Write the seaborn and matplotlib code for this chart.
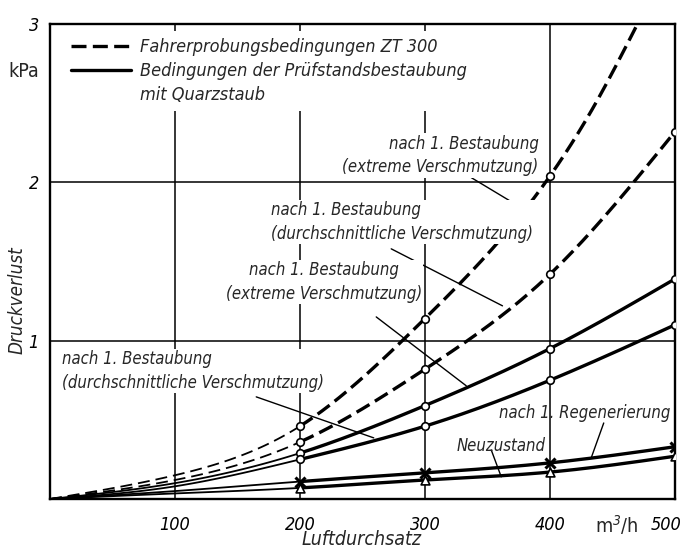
import numpy as np
import pandas as pd
import matplotlib
matplotlib.use("Agg")
import matplotlib.pyplot as plt
import matplotlib.transforms as mtransforms
from matplotlib.lines import Line2D
import seaborn as sns

# ---------------- data ----------------
airflow = [0, 100, 200, 300, 400, 500]           # m3/h
# field-test conditions ZT 300 (dashed)
field_extreme_x = [0, 100, 200, 300, 400, 438, 470]
field_extreme_y = [0, 0.15, 0.46, 1.14, 2.04, 2.52, 3.0]
field_average = [0, 0.12, 0.36, 0.82, 1.42, 2.32]
# test-bench conditions with quartz dust (solid)
bench_extreme = [0, 0.10, 0.29, 0.59, 0.95, 1.39]
bench_average = [0, 0.08, 0.25, 0.46, 0.75, 1.10]
after_regeneration = [0, 0.05, 0.11, 0.165, 0.228, 0.33]
new_state = [0, 0.035, 0.07, 0.12, 0.17, 0.27]
marker_x = [200, 300, 400, 500]

x_ticks = [100, 200, 300, 400, 500]
y_ticks = [1, 2, 3]

sns.set_style("white")
plt.rcParams["font.family"] = ["DejaVu Sans"]
plt.rcParams["font.style"] = "italic"
plt.rcParams["font.stretch"] = "condensed"


def spline(x, y, xs):
    x = np.asarray(x, float); y = np.asarray(y, float)
    n = len(x); h = np.diff(x)
    A = np.zeros((n, n)); r = np.zeros(n)
    A[0, 0] = A[-1, -1] = 1
    for i in range(1, n - 1):
        A[i, i - 1] = h[i - 1]; A[i, i] = 2 * (h[i - 1] + h[i]); A[i, i + 1] = h[i]
        r[i] = 3 * ((y[i + 1] - y[i]) / h[i] - (y[i] - y[i - 1]) / h[i - 1])
    c = np.linalg.solve(A, r)
    b = (y[1:] - y[:-1]) / h - h * (2 * c[:-1] + c[1:]) / 3
    d = (c[1:] - c[:-1]) / (3 * h)
    idx = np.clip(np.searchsorted(x, xs) - 1, 0, n - 2)
    dx = xs - x[idx]
    return y[idx] + b[idx] * dx + c[idx] * dx ** 2 + d[idx] * dx ** 3


fig = plt.figure(figsize=(6.84, 5.51), dpi=100)
ax = fig.add_axes([0.0731, 0.0944, 0.9137, 0.862])

curves = [
    (field_extreme_x, field_extreme_y, True),
    (airflow, field_average, True),
    (airflow, bench_extreme, False),
    (airflow, bench_average, False),
    (airflow, after_regeneration, False),
    (airflow, new_state, False),
]
for cx, cy, dashed in curves:
    xs_thin = np.linspace(0, 200, 80)
    xs_thick = np.linspace(200, max(cx), 200)
    ys_thin = spline(cx, cy, xs_thin)
    ys_thick = spline(cx, cy, xs_thick)
    l1, = ax.plot(xs_thin, ys_thin, color="black", lw=1.3, zorder=3)
    df = pd.DataFrame({"x": xs_thick, "y": ys_thick})
    sns.lineplot(data=df, x="x", y="y", ax=ax, color="black", lw=2.4,
                 sort=False, estimator=None, zorder=3)
    l2 = ax.lines[-1]
    if dashed:
        l1.set_dashes((6.6, 3.3))
        l2.set_dashes((4.5, 1.9))

# markers
circ = pd.DataFrame({
    "x": marker_x[:3] + marker_x + marker_x + marker_x,
    "y": field_extreme_y[2:5] + field_average[2:] + bench_extreme[2:] + bench_average[2:],
})
sns.scatterplot(data=circ, x="x", y="y", ax=ax, marker="o", s=30,
                facecolor="white", edgecolor="black", linewidth=1.2, zorder=5)
tri = pd.DataFrame({"x": marker_x, "y": new_state[2:]})
sns.scatterplot(data=tri, x="x", y="y", ax=ax, marker="^", s=40,
                facecolor="white", edgecolor="black", linewidth=1.2, zorder=5)
ax.plot(marker_x, after_regeneration[2:], linestyle="none", marker="x",
        ms=7, mew=2.2, color="black", zorder=5)

ax.set_xlim(0, 500)
ax.set_ylim(0, 3)
ax.set_xticks(x_ticks)
ax.set_yticks(y_ticks)
ax.set_xticklabels([str(v) for v in x_ticks])
ax.set_yticklabels([str(v) for v in y_ticks])
ax.tick_params(axis="both", length=0, labelsize=13, colors="black")
ax.tick_params(axis="x", pad=12)
ax.tick_params(axis="y", pad=8)
lab500 = ax.get_xticklabels()[-1]
lab500.set_transform(lab500.get_transform() +
                     mtransforms.ScaledTranslation(-9 / 100, 0, fig.dpi_scale_trans))
ax.grid(True, color="black", lw=1.1)
ax.set_axisbelow(True)
for s in ax.spines.values():
    s.set_linewidth(1.7)
    s.set_color("black")

ax.set_xlabel("Luftdurchsatz", fontsize=14)
ax.xaxis.set_label_coords(0.498, -0.066)
ax.set_ylabel("Druckverlust", fontsize=13.5)
ax.yaxis.set_label_coords(-0.037, 0.419)
ax.text(-0.042, 0.90, "kPa", transform=ax.transAxes, fontsize=14, style="normal",
        ha="center", va="center")
ax.text(453, -0.055, "m$^3$/h", transform=ax.get_xaxis_transform(), fontsize=14,
        style="normal", ha="center", va="center")

# legend
handles = [
    Line2D([], [], color="black", lw=2.4, dashes=(4.5, 1.9)),
    Line2D([], [], color="black", lw=2.4),
    Line2D([], [], color="none", lw=0),
]
labels = ["Fahrerprobungsbedingungen ZT 300",
          "Bedingungen der Prüfstandsbestaubung",
          "mit Quarzstaub"]
leg = ax.legend(handles, labels, loc="upper left", bbox_to_anchor=(0.022, 0.985),
                fontsize=13, handlelength=3.3, handletextpad=0.55, labelspacing=0.32,
                borderpad=0.4, borderaxespad=0, frameon=True, fancybox=False,
                framealpha=1, facecolor="white", edgecolor="none")
leg.set_zorder(6)

bbox = dict(facecolor="white", edgecolor="none", pad=1.0)
txt_kw = dict(fontsize=12, va="center", linespacing=1.4, zorder=6)

ax.text(391, 2.17, "nach 1. Bestaubung\n(extreme Verschmutzung)", ha="right",
        multialignment="right", bbox=bbox, **txt_kw)
ax.text(177, 1.75, "nach 1. Bestaubung\n(durchschnittliche Verschmutzung)", ha="left",
        multialignment="left", bbox=bbox, **txt_kw)
ax.text(219, 1.37, "nach 1. Bestaubung\n(extreme Verschmutzung)", ha="center",
        multialignment="center", bbox=bbox, **txt_kw)
ax.text(10, 0.81, "nach 1. Bestaubung\n(durchschnittliche Verschmutzung)", ha="left",
        multialignment="left", bbox=bbox, **txt_kw)
ax.text(359, 0.544, "nach 1. Regenerierung", ha="left", **txt_kw)
ax.text(325, 0.335, "Neuzustand", ha="left", **txt_kw)

leaders = [
    ((337, 2.03), (377, 1.84)),
    ((273, 1.58), (362, 1.22)),
    ((261, 1.15), (333, 0.715)),
    ((165, 0.645), (259, 0.386)),
    ((443, 0.48), (433, 0.26)),
    ((353, 0.31), (361, 0.14)),
]
for (x0, y0), (x1, y1) in leaders:
    ax.annotate("", xy=(x1, y1), xytext=(x0, y0),
                arrowprops=dict(arrowstyle="-", color="black", lw=1.0,
                                shrinkA=0, shrinkB=0), zorder=4)

fig.savefig("out.png", dpi=100)
